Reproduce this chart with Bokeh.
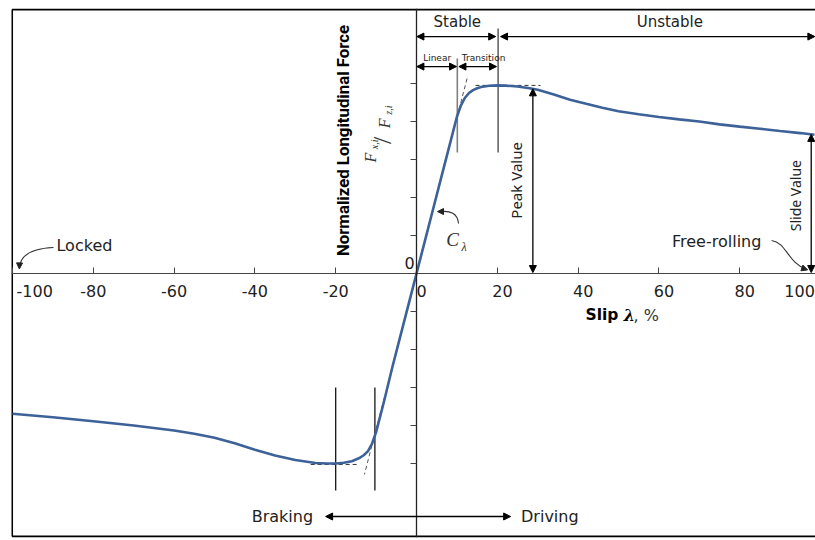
import math
from bokeh.plotting import figure
from bokeh.models import (Range1d, LinearAxis, FixedTicker, Arrow, NormalHead,
                          Label, ColumnDataSource)
from bokeh.embed import file_html
from bokeh.resources import INLINE

# ---------------- data ----------------
slip_braking = [-100, -90, -80, -70, -60, -55, -50, -45, -40, -35, -30, -25, -22,
                -20, -18, -16, -14, -13, -12, -11, -10, -8, -6, -4, -2]
force_braking = [-0.738, -0.757, -0.778, -0.800, -0.826, -0.843, -0.865, -0.893,
                 -0.928, -0.958, -0.982, -0.997, -1.000, -1.000, -0.996, -0.988,
                 -0.970, -0.955, -0.935, -0.895, -0.835, -0.670, -0.495, -0.330, -0.165]
slip_driving = [0, 2, 4, 6, 8, 10, 11, 12, 13, 14, 15, 16, 18, 20, 22, 25, 28, 30,
                34, 38, 42, 46, 50, 55, 60, 65, 70, 75, 80, 85, 90, 95, 98.5]
force_driving = [0.0, 0.165, 0.330, 0.495, 0.660, 0.825, 0.885, 0.925, 0.950, 0.965,
                 0.975, 0.982, 0.988, 0.990, 0.989, 0.984, 0.975, 0.967, 0.942,
                 0.915, 0.893, 0.872, 0.854, 0.838, 0.824, 0.811, 0.800, 0.785,
                 0.773, 0.762, 0.750, 0.739, 0.730]

x_ticks = [-100, -80, -60, -40, -20, 0, 20, 40, 60, 80, 100]
x_tick_labels = ["-100", "-80", "-60", "-40", "-20", "0", "20", "40", "60", "80", "100"]
y_ticks = [-1.0, -0.8, -0.6, -0.4, -0.2, 0.2, 0.4, 0.6, 0.8, 1.0]

c_lambda = 0.082          # initial slope (per % slip)
linear_end = 10.1         # end of linear region, % slip
stable_end = 20.2         # peak slip, % slip
peak_value = 0.99
peak_arrow_slip = 28.8
peak_arrow_value = 0.972
slide_arrow_slip = 97.7
slide_value = 0.732
brake_peak = -1.0
brake_lin_end = -10.3
brake_peak_slip = -20.0

slip = slip_braking + slip_driving
force = force_braking + force_driving

# ---------------- figure ----------------
p = figure(width=815, height=540, output_backend="svg", toolbar_location=None,
           x_range=Range1d(-100.25, 98.76), y_range=Range1d(-1.3895, 1.3947),
           x_axis_type=None, y_axis_type=None,
           min_border_left=11, min_border_right=0, min_border_top=8,
           min_border_bottom=3,
           background_fill_color="white", border_fill_color="white")
p.outline_line_color = None
p.grid.visible = False

TXT = "#222222"
AX = "#444444"
FONT = "DejaVu Sans"

# axes crossing at the origin
xaxis = LinearAxis(fixed_location=0, ticker=FixedTicker(ticks=x_ticks))
fs = "\u2007"
overrides = {}
for t, lab_ in zip(x_ticks, x_tick_labels):
    if t in (-100, 100):
        overrides[t] = ""          # drawn as labels below (edge positions)
    elif t >= 0:
        overrides[t] = fs + lab_
    else:
        overrides[t] = lab_
xaxis.major_label_overrides = overrides
xaxis.axis_line_color = AX
xaxis.axis_line_width = 1.2
xaxis.major_tick_in = 6
xaxis.major_tick_out = 0
xaxis.major_tick_line_color = AX
xaxis.minor_tick_line_color = None
xaxis.major_label_text_font = FONT
xaxis.major_label_text_font_size = "16px"
xaxis.major_label_text_color = TXT
xaxis.major_label_standoff = 9
p.add_layout(xaxis, "below")

yaxis = LinearAxis(fixed_location=0, ticker=FixedTicker(ticks=y_ticks))
yaxis.major_label_overrides = {t: "" for t in y_ticks}
yaxis.axis_line_color = "#222222"
yaxis.axis_line_width = 1.3
yaxis.major_tick_in = 0
yaxis.major_tick_out = 6
yaxis.major_tick_line_color = AX
yaxis.minor_tick_line_color = None
p.add_layout(yaxis, "left")

# frame lines (left, top, bottom)
xl, xr, yt, yb = -100.12, 99.5, 1.389, -1.384
p.multi_line(xs=[[xl, xl], [xl, xr], [xl, xr]], ys=[[yt, yb], [yt, yt], [yb, yb]],
             line_color="black", line_width=2)

# tangent (dashed) lines
p.line([4, 12.7], [4 * c_lambda, 12.7 * c_lambda], line_color="#555555",
       line_width=1, line_dash="4 3")
p.line([-8, -12.9], [-8 * c_lambda, -12.9 * c_lambda], line_color="#555555",
       line_width=1, line_dash="4 3")
p.line([14.6, 30.7], [peak_value, peak_value], line_color="#333333",
       line_width=1, line_dash="4 3")
p.line([-26.2, -14.3], [brake_peak - 0.005, brake_peak - 0.005], line_color="#333333",
       line_width=1, line_dash="4 3")

# region boundaries
p.line([linear_end, linear_end], [1.132, 0.637], line_color="#808080", line_width=1.6)
p.line([stable_end, stable_end], [1.289, 0.637], line_color="#666666", line_width=1.6)
p.line([brake_peak_slip, brake_peak_slip], [-0.6, -1.142], line_color="black", line_width=1.2)
p.line([brake_lin_end, brake_lin_end], [-0.6, -1.142], line_color="black", line_width=1.2)

# the curve
p.line(slip, force, line_color="#3d6199", line_width=2.6)

# double-headed arrows
arr = ColumnDataSource(dict(
    x0=[0.1, 20.8, 0.1, 10.5, peak_arrow_slip, slide_arrow_slip, -22.5],
    y0=[1.247, 1.247, 1.089, 1.089, 0.005, 0.005, -1.279],
    x1=[19.6, 98.6, 9.9, 19.8, peak_arrow_slip, slide_arrow_slip, 23.3],
    y1=[1.247, 1.247, 1.089, 1.089, peak_arrow_value, slide_value, -1.279],
))
p.add_layout(Arrow(source=arr, x_start="x0", y_start="y0", x_end="x1", y_end="y1",
                   start=NormalHead(size=7, fill_color="black", line_color="black"),
                   end=NormalHead(size=7, fill_color="black", line_color="black"),
                   line_color="black", line_width=1.3))

# curved pointer arrows (Locked, Free-rolling, C_lambda)
p.bezier(x0=[-89.85, 87.9, 10.4], y0=[0.137, 0.174, 0.263],
         x1=[-98.27, 96.5, 5.9], y1=[0.030, 0.022, 0.326],
         cx0=[-95.5, 91.6, 10.15], cy0=[0.132, 0.163, 0.316],
         cx1=[-98.1, 91.8, 8.4], cy1=[0.095, 0.058, 0.332],
         line_color="#333333", line_width=1.1)
heads = ColumnDataSource(dict(x0=[-98.25, 95.0, 7.4], y0=[0.06, 0.032, 0.326],
                              x1=[-98.3, 96.8, 5.2], y1=[0.024, 0.019, 0.326]))
p.add_layout(Arrow(source=heads, x_start="x0", y_start="y0", x_end="x1", y_end="y1",
                   end=NormalHead(size=6, fill_color="#222222", line_color="#222222"),
                   line_color=None))

# ---------------- texts ----------------
def lab(x, y, text, size, font=FONT, style="normal", angle=0, align="center",
        color=TXT, baseline="middle"):
    p.add_layout(Label(x=x, y=y, text=text, text_font=font, text_font_size=size,
                       text_font_style=style, angle=angle, text_align=align,
                       text_baseline=baseline, text_color=color))

lab(10.1, 1.326, "Stable", "15px")
lab(62.7, 1.326, "Unstable", "15px")
lab(5.1, 1.132, "Linear", "9px")
lab(16.6, 1.132, "Transition", "9px")
lab(-82.2, 0.147, "Locked", "16px")
lab(74.3, 0.168, "Free-rolling", "16px")
lab(-99.0, -0.091, x_tick_labels[0], "16px", align="left")
lab(98.6, -0.091, x_tick_labels[-1], "16px", align="right")
lab(-1.73, 0.053, "0", "16px")
lab(-33.2, -1.279, "Braking", "16px")
lab(33.0, -1.279, "Driving", "16px")
lab(24.75, 0.49, "Peak Value", "15px", font="Noto Sans", angle=math.pi / 2)
lab(93.8, 0.41, "Slide Value", "14px", font="Noto Sans", angle=math.pi / 2)
lab(-18.2, 0.70, "Normalized Longitudinal Force", "16.8px",
    font="Roboto", style="bold", angle=math.pi / 2, color="black")
lab(51.3, -0.221, "Slip ", "15.5px", style="bold", align="right", color="black")
lab(51.3, -0.221, "\u03bb", "16px", font="DejaVu Serif", style="bold italic",
    align="left", color="black")
lab(53.7, -0.221, ", %", "16px", align="left", color="#333333")
# C_lambda
lab(8.9, 0.18, "C", "19px", font="Liberation Serif", style="italic", color="#333333")
lab(11.8, 0.14, "\u03bb", "12px", font="Liberation Serif", style="italic", color="#333333")
# F_x,i / F_z,i
serif = "Liberation Serif"
lab(-11.4, 0.61, "F", "16px", font=serif, style="italic", angle=math.pi / 2, color="#333333")
lab(-10.3, 0.68, "x,i", "10px", font=serif, style="italic", angle=math.pi / 2, color="#333333")
lab(-8.5, 0.70, "/", "26px", font=serif, angle=math.pi / 2, color="#333333")
lab(-8.0, 0.79, "F", "16px", font=serif, style="italic", angle=math.pi / 2, color="#333333")
lab(-6.9, 0.86, "z,i", "10px", font=serif, style="italic", angle=math.pi / 2, color="#333333")

open("out.html", "w").write(file_html(p, INLINE))
